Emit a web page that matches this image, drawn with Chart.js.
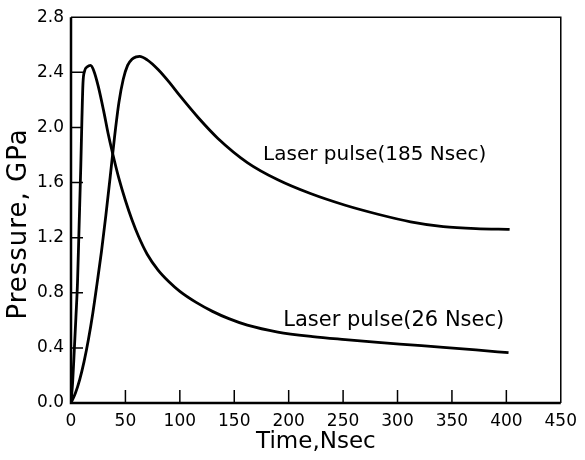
<!DOCTYPE html>
<html>
<head>
<meta charset="utf-8">
<script src="https://cdn.jsdelivr.net/npm/chart.js@4.4.0/dist/chart.umd.min.js"></script>
<style>
  html, body { margin: 0; padding: 0; background: #fff; }
  #wrap { width: 585px; height: 460px; position: relative; }
</style>
</head>
<body>
<div id="wrap"><canvas id="chart"></canvas></div>
<script>
// data
var time26 = [0, 1.5, 3, 4.5, 6, 7.5, 9, 10, 11, 12.5, 15, 18, 21, 25, 30, 34, 38, 44, 50, 56, 62, 70, 80, 90, 100, 115, 130, 145, 162, 190, 222, 252, 282, 312, 342, 372, 402];
var pressure26 = [0, 0.15, 0.38, 0.62, 0.88, 1.3, 1.72, 2.05, 2.32, 2.41, 2.44, 2.45, 2.41, 2.3, 2.12, 1.96, 1.82, 1.63, 1.47, 1.33, 1.21, 1.08, 0.965, 0.88, 0.81, 0.73, 0.665, 0.612, 0.565, 0.515, 0.482, 0.46, 0.44, 0.422, 0.404, 0.385, 0.365];

var time185 = [0, 4, 8, 12, 16, 20, 24, 28, 32, 36, 40, 44, 48, 52, 56, 60, 63, 70, 80, 90, 100, 117, 135, 162, 190, 220, 252, 282, 312, 342, 372, 403];
var pressure185 = [0, 0.07, 0.17, 0.3, 0.46, 0.65, 0.87, 1.1, 1.36, 1.64, 1.93, 2.18, 2.35, 2.45, 2.495, 2.512, 2.515, 2.49, 2.42, 2.33, 2.23, 2.07, 1.92, 1.745, 1.62, 1.52, 1.435, 1.37, 1.315, 1.28, 1.265, 1.26];

var xTicks = [0, 50, 100, 150, 200, 250, 300, 350, 400, 450];
var yTicks = [0, 0.4, 0.8, 1.2, 1.6, 2.0, 2.4, 2.8];
var curveNames = ["Laser pulse(26 Nsec)", "Laser pulse(185 Nsec)"];

function toPoints(xs, ys) {
  return xs.map(function (x, i) { return { x: x, y: ys[i] }; });
}

var font = "'DejaVu Sans', sans-serif";

// frame, inward ticks, curve labels and the y title
var paperPlugin = {
  id: "paper",
  afterDatasetsDraw: function (chart) {
    var ctx = chart.ctx;
    var a = chart.chartArea;
    var xs = chart.scales.x;
    var ys = chart.scales.y;
    ctx.save();
    ctx.strokeStyle = "#000";
    ctx.lineWidth = 1.5;
    ctx.beginPath();
    ctx.moveTo(a.left, a.top);
    ctx.lineTo(a.right, a.top);
    ctx.lineTo(a.right, a.bottom);
    ctx.stroke();
    ctx.lineWidth = 2.5;
    ctx.beginPath();
    ctx.moveTo(a.left, a.top);
    ctx.lineTo(a.left, a.bottom);
    ctx.lineTo(a.right, a.bottom);
    ctx.stroke();

    ctx.lineWidth = 1.5;
    ctx.beginPath();
    xTicks.slice(1, -1).forEach(function (v) {
      var px = xs.getPixelForValue(v);
      ctx.moveTo(px, a.bottom);
      ctx.lineTo(px, a.bottom - 13);
    });
    yTicks.slice(1, -1).forEach(function (v) {
      var py = ys.getPixelForValue(v);
      ctx.moveTo(a.left, py);
      ctx.lineTo(a.left + 12, py);
    });
    ctx.stroke();

    ctx.fillStyle = "#000";
    ctx.textAlign = "center";
    ctx.textBaseline = "middle";
    ctx.font = "20px " + font;
    ctx.fillText(curveNames[1], xs.getPixelForValue(279), ys.getPixelForValue(1.8));
    ctx.font = "21px " + font;
    ctx.fillText(curveNames[0], xs.getPixelForValue(296.5), ys.getPixelForValue(0.6));

    ctx.translate(19, 224);
    ctx.rotate(-Math.PI / 2);
    ctx.font = "26px " + font;
    ctx.letterSpacing = "1px";
    ctx.fillText("Pressure, GPa", 0, 0);
    ctx.restore();
  }
};

var ctx = document.getElementById("chart");

new Chart(ctx, {
  type: "line",
  data: {
    datasets: [
      {
        label: curveNames[0],
        data: toPoints(time26, pressure26),
        borderColor: "#000",
        borderWidth: 2.8,
        pointRadius: 0,
        cubicInterpolationMode: "monotone",
        fill: false
      },
      {
        label: curveNames[1],
        data: toPoints(time185, pressure185),
        borderColor: "#000",
        borderWidth: 2.8,
        pointRadius: 0,
        cubicInterpolationMode: "monotone",
        fill: false
      }
    ]
  },
  options: {
    responsive: true,
    maintainAspectRatio: false,
    animation: false,
    layout: { padding: { top: 16, right: 15, left: 0, bottom: 0 } },
    plugins: {
      legend: { display: false },
      tooltip: { enabled: false }
    },
    scales: {
      x: {
        type: "linear",
        min: 0,
        max: 450,
        afterBuildTicks: function (scale) {
          scale.ticks = xTicks.map(function (v) { return { value: v }; });
        },
        afterFit: function (scale) { scale.height = 57; },
        grid: { display: false, drawTicks: false },
        border: { display: false },
        ticks: {
          color: "#000",
          padding: 8,
          maxRotation: 0,
          font: { family: font, size: 17 }
        },
        title: {
          display: true,
          text: "Time,Nsec",
          color: "#000",
          padding: { top: 0 },
          font: { family: font, size: 23 }
        }
      },
      y: {
        type: "linear",
        min: 0,
        max: 2.8,
        afterBuildTicks: function (scale) {
          scale.ticks = yTicks.map(function (v) { return { value: v }; });
        },
        afterFit: function (scale) { scale.width = 71; },
        grid: { display: false, drawTicks: false },
        border: { display: false },
        ticks: {
          color: "#000",
          padding: 7,
          font: { family: font, size: 17 },
          callback: function (v) { return v.toFixed(1); }
        },
        title: { display: false }
      }
    }
  },
  plugins: [paperPlugin]
});
</script>
</body>
</html>
